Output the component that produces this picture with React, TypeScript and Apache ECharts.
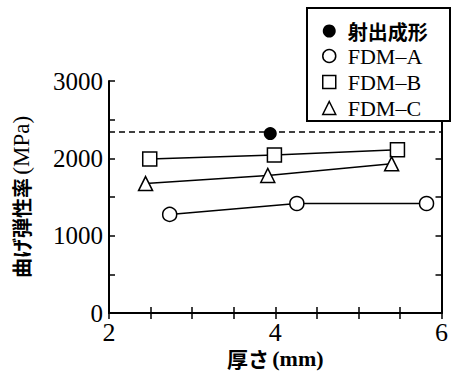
import React, { useEffect, useRef } from "react";
import * as echarts from "echarts";

// Data
const seriesNames = ["射出成形", "FDM–A", "FDM–B", "FDM–C"];
const injectionThickness = [3.94];
const injectionModulus = [2320];
const injectionReference = 2340;
const fdmAThickness = [2.73, 4.26, 5.82];
const fdmAModulus = [1275, 1416, 1416];
const fdmBThickness = [2.49, 3.99, 5.47];
const fdmBModulus = [1992, 2043, 2112];
const fdmCThickness = [2.44, 3.91, 5.4];
const fdmCModulus = [1674, 1779, 1929];
const xLabeled = [2, 4, 6];
const yLabeled = [0, 1000, 2000, 3000];

const zip = (xs: number[], ys: number[]) => xs.map((x, i) => [x, ys[i]]);

const SERIF = "'Liberation Serif', 'Times New Roman', serif";
const CJK = "'Noto Sans CJK JP', sans-serif";

export default function App() {
  const ref = useRef<HTMLDivElement>(null);
  useEffect(() => {
    const chart = echarts.init(ref.current!, null, { renderer: "svg" });
    const axisLine = { show: true, lineStyle: { color: "#000", width: 2 } };
    const axisTick = { show: true, inside: true, length: 6, lineStyle: { color: "#000", width: 1.5 } };
    const hollow = { color: "#fff", borderColor: "#000", borderWidth: 1.5 };
    const lineStyle = { color: "#000", width: 1.5 };
    const option: any = {
      animation: false,
      backgroundColor: "#fff",
      grid: { left: 109, right: 5, top: 81, bottom: 60 },
      xAxis: [
        {
          type: "value",
          min: 2,
          max: 6,
          interval: 0.5,
          axisLine,
          axisTick,
          splitLine: { show: false },
          axisLabel: {
            color: "#000",
            fontFamily: SERIF,
            fontSize: 26,
            margin: 6,
            showMaxLabel: true,
            formatter: (v: number) => (xLabeled.includes(v) ? String(v) : ""),
          },
          name: "{a|厚さ} {b|(mm)}",
          nameLocation: "middle",
          nameGap: 34,
          nameMoveOverlap: false,
          nameTextStyle: {
            color: "#000",
            rich: {
              a: { fontFamily: CJK, fontWeight: "bold", fontSize: 21, color: "#000" },
              b: { fontFamily: SERIF, fontWeight: "bold", fontSize: 22, color: "#000" },
            },
          },
        },
        {
          type: "value",
          position: "top",
          min: 2,
          max: 6,
          interval: 0.5,
          axisLine,
          axisTick,
          axisLabel: { show: false },
          splitLine: { show: false },
        },
      ],
      yAxis: [
        {
          type: "value",
          min: 0,
          max: 3000,
          interval: 500,
          axisLine,
          axisTick,
          splitLine: { show: false },
          axisLabel: {
            color: "#000",
            fontFamily: SERIF,
            fontSize: 25,
            margin: 6,
            formatter: (v: number) => (yLabeled.includes(v) ? String(v) : ""),
          },
          name: "{a|曲げ弾性率} {b|(MPa)}",
          nameLocation: "middle",
          nameGap: 76,
          nameMoveOverlap: false,
          nameTextStyle: {
            color: "#000",
            rich: {
              a: { fontFamily: CJK, fontWeight: "bold", fontSize: 20, color: "#000" },
              b: { fontFamily: SERIF, fontSize: 23, color: "#000" },
            },
          },
        },
        {
          type: "value",
          position: "right",
          min: 0,
          max: 3000,
          interval: 500,
          axisLine,
          axisTick,
          axisLabel: { show: false },
          splitLine: { show: false },
        },
      ],
      graphic: [
        {
          type: "rect",
          z: 10,
          shape: { x: 307, y: 8, width: 143, height: 113 },
          style: { fill: "#fff", stroke: "#000", lineWidth: 2 },
        },
      ],
      legend: {
        z: 20,
        orient: "vertical",
        left: 322,
        top: 21,
        padding: 0,
        itemGap: 4,
        itemWidth: 13,
        itemHeight: 13,
        data: [
          { name: seriesNames[0], icon: "circle", itemStyle: { color: "#000", borderWidth: 0 } },
          { name: seriesNames[1], icon: "circle", itemStyle: hollow },
          { name: seriesNames[2], icon: "rect", itemStyle: hollow },
          { name: seriesNames[3], icon: "triangle", itemStyle: hollow },
        ],
        formatter: (n: string) => (n === seriesNames[0] ? `{j|${n}}` : `{s|${n}}`),
        textStyle: {
          color: "#000",
          lineHeight: 20,
          rich: {
            j: { fontFamily: CJK, fontWeight: "bold", fontSize: 20, color: "#000", lineHeight: 20, padding: [0, 0, 0, 7] },
            s: { fontFamily: SERIF, fontSize: 22, color: "#000", lineHeight: 20, padding: [0, 0, 0, 7] },
          },
        },
      },
      series: [
        {
          name: seriesNames[0],
          type: "line",
          data: zip(injectionThickness, injectionModulus),
          symbol: "circle",
          symbolSize: 13,
          itemStyle: { color: "#000" },
          lineStyle,
          z: 3,
          markLine: {
            silent: true,
            symbol: ["none", "none"],
            label: { show: false },
            lineStyle: { color: "#000", width: 1.5, type: [6, 4] },
            data: [{ yAxis: injectionReference }],
          },
        },
        {
          name: seriesNames[1],
          type: "line",
          data: zip(fdmAThickness, fdmAModulus),
          symbol: "circle",
          symbolSize: 14,
          itemStyle: hollow,
          lineStyle,
        },
        {
          name: seriesNames[2],
          type: "line",
          data: zip(fdmBThickness, fdmBModulus),
          symbol: "rect",
          symbolSize: 14,
          itemStyle: hollow,
          lineStyle,
        },
        {
          name: seriesNames[3],
          type: "line",
          data: zip(fdmCThickness, fdmCModulus),
          symbol: "triangle",
          symbolSize: 14,
          itemStyle: hollow,
          lineStyle,
        },
      ],
    };
    chart.setOption(option);
    return () => chart.dispose();
  }, []);
  return (
    <div
      ref={ref}
      style={{ position: "absolute", left: 0, top: 0, width: 451, height: 374, background: "#fff" }}
    />
  );
}
